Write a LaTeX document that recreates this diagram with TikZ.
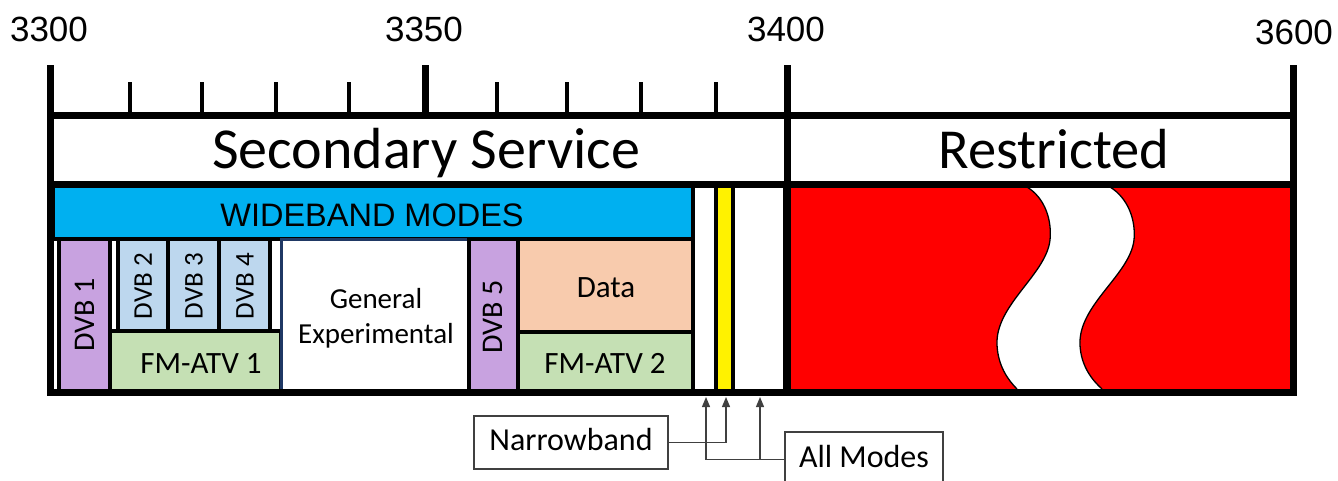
\documentclass[tikz,border=0pt]{standalone}
\usepackage{fontspec}
\setmainfont{Carlito}
\newfontfamily\arialfont{Liberation Sans}
\usetikzlibrary{arrows.meta}
\definecolor{wideblue}{RGB}{0,176,240}
\definecolor{dvbpurple}{RGB}{200,162,224}
\definecolor{dvbblue}{RGB}{189,215,238}
\definecolor{atvgreen}{RGB}{197,224,180}
\definecolor{datapeach}{RGB}{248,203,173}
\definecolor{genborder}{RGB}{31,56,100}
\definecolor{callgray}{RGB}{64,64,64}

\begin{document}
\begin{tikzpicture}[x=1pt,y=-1pt,
    frame/.style={line width=7pt,black},
    seg/.style={draw=black,line width=4pt},
    axisnum/.style={font=\arialfont\fontsize{35}{42}\selectfont,inner sep=0pt,anchor=base},
    segtext/.style={font=\fontsize{29}{35}\selectfont,inner sep=0pt},
    bigsegtext/.style={font=\fontsize{31}{37}\selectfont,inner sep=0pt,anchor=base},
    callout/.style={draw=callgray,line width=1.3pt,font=\fontsize{32}{38}\selectfont,
        text height=24pt,text depth=9pt,inner sep=0pt},
    callline/.style={callgray,line width=1.3pt,-{Triangle[length=10pt,width=8pt]}}]
    \useasboundingbox (0,0) rectangle (1338,480);

    % axis numbers
    \node[axisnum] (f3300) at (49,41) {3300};
    \node[axisnum] (f3350) at (424,41) {3350};
    \node[axisnum] (f3400) at (786,41) {3400};
    \node[axisnum] (f3600) at (1294,44) {3600};

    % wideband row and narrow strips
    \draw[seg,fill=wideblue] (53,186) rectangle (693,239);
    \draw[seg,fill=white] (693,186) rectangle (716,392);
    \draw[seg,fill=yellow] (716,186) rectangle (733,392);
    \draw[seg,fill=white] (733,186) rectangle (785,392);

    % lower row
    \draw[seg,fill=dvbpurple] (59,239) rectangle (110,392);
    \draw[seg,fill=dvbblue] (118,239) rectangle (168,331);
    \draw[seg,fill=dvbblue] (168,239) rectangle (219,331);
    \draw[seg,fill=dvbblue] (219,239) rectangle (270,331);
    \draw[seg,fill=atvgreen] (110,331) rectangle (281,392);
    \draw[draw=genborder,line width=3pt,fill=white] (281,239) rectangle (469,392);
    \draw[seg,fill=dvbpurple] (469,239) rectangle (518,392);
    \draw[seg,fill=datapeach] (518,239) rectangle (693,332);
    \draw[seg,fill=atvgreen] (518,332) rectangle (693,392);

    % restricted block with the break
    \fill[red] (787,184) rectangle (1293,392);
    \fill[white] (1027,187) .. controls (1045,198) and (1052,220) .. (1050,240)
        .. controls (1046,275) and (995,305) .. (997,345)
        .. controls (998,366) and (1008,380) .. (1017,389) -- (1102,389)
        .. controls (1092,380) and (1081,366) .. (1080,345)
        .. controls (1078,305) and (1130,275) .. (1134,240)
        .. controls (1136,220) and (1128,198) .. (1110,187) -- cycle;
    \draw[line width=1.3pt] (1027,187) .. controls (1045,198) and (1052,220) .. (1050,240)
        .. controls (1046,275) and (995,305) .. (997,345)
        .. controls (998,366) and (1008,380) .. (1017,389);
    \draw[line width=1.3pt] (1110,187) .. controls (1128,198) and (1136,220) .. (1134,240)
        .. controls (1130,275) and (1078,305) .. (1080,345)
        .. controls (1081,366) and (1092,380) .. (1102,389);

    % frame and ticks
    \draw[frame,line cap=rect] (50,115) -- (1293,115);
    \draw[frame,line cap=rect] (50,184) -- (1293,184);
    \draw[frame,line cap=rect] (50,392) -- (1293,392);
    \foreach \x in {50,787,1293}
        \draw[frame] (\x,65) -- (\x,392);
    \draw[frame] (425,65) -- (425,115);
    \foreach \x in {130,202,276,349,497,567,641,716}
        \draw[line width=4pt] (\x,82) -- (\x,115);

    % labels
    \node[font=\fontsize{58}{69}\selectfont,inner sep=0pt,anchor=base] (secsvc) at (426,168) {Secondary Service};
    \node[font=\fontsize{56.5}{67}\selectfont,inner sep=0pt,anchor=base] (restr) at (1054,168) {Restricted};
    \node[font=\arialfont\fontsize{32.5}{39}\selectfont,inner sep=0pt,anchor=base] (wide) at (372,226) {WIDEBAND MODES};
    \node[segtext,font=\fontsize{30}{36}\selectfont,rotate=90] (dvb1) at (85,315) {DVB 1};
    \node[segtext,font=\fontsize{27}{32}\selectfont,rotate=90] (dvb2) at (143,286) {DVB 2};
    \node[segtext,font=\fontsize{27}{32}\selectfont,rotate=90] (dvb3) at (194,286) {DVB 3};
    \node[segtext,font=\fontsize{27}{32}\selectfont,rotate=90] (dvb4) at (245,286) {DVB 4};
    \node[bigsegtext] (atv1) at (201,373) {FM-ATV 1};
    \node[segtext,align=center] (genexp) at (376,318) {General\\Experimental};
    \node[segtext,font=\fontsize{30}{36}\selectfont,rotate=90] (dvb5) at (493,317) {DVB 5};
    \node[bigsegtext] (data) at (606,297) {Data};
    \node[bigsegtext] (atv2) at (605,373) {FM-ATV 2};

    % callouts
    \node[callout,minimum width=194pt,minimum height=53pt] (narrow) at (571,442.5) {Narrowband};
    \node[callout,minimum width=158pt,minimum height=55pt] (allmodes) at (864,459.5) {All Modes};
    \coordinate (nbtip) at (726,397);
    \coordinate (amtipa) at (706,397);
    \coordinate (amtipb) at (760,397);
    \draw[callline] (narrow.east) -| (nbtip);
    \draw[callline] (allmodes.west) -| (amtipa);
    \draw[callline] (amtipb |- allmodes.west) -- (amtipb);
\end{tikzpicture}
\end{document}
